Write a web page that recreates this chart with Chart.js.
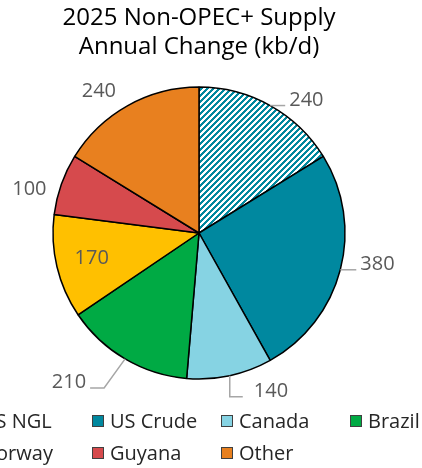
<!DOCTYPE html>
<html>
<head>
<meta charset="utf-8">
<script src="https://cdn.jsdelivr.net/npm/chart.js@4"></script>
<style>
  html, body { margin: 0; padding: 0; background: #fff; overflow: hidden; }
  #c { display: block; }
</style>
</head>
<body>
<canvas id="c" width="422" height="468"></canvas>
<script>
// ---- data ----
const titleLines = ['2025 Non-OPEC+ Supply', 'Annual Change (kb/d)'];
const categories = ['US NGL', 'US Crude', 'Canada', 'Brazil', 'Norway', 'Guyana', 'Other'];
const values = [240, 380, 140, 210, 170, 100, 240];

// ---- styles ----
const FONT = "'Open Sans', 'Noto Sans', sans-serif";
const TEAL = '#00889f';
const sliceColors = [null, TEAL, '#86d3e3', '#00aa44', '#ffc000', '#d64a4d', '#e8801f'];

function hatch(color) {
  const s = 6;
  const c = document.createElement('canvas');
  c.width = s; c.height = s;
  const g = c.getContext('2d');
  g.fillStyle = '#fff';
  g.fillRect(0, 0, s, s);
  g.fillStyle = color;
  for (let x = 0; x < s; x++) for (let y = 0; y < s; y++) {
    if (((x + y) % s) < 3) g.fillRect(x, y, 1, 1);
  }
  return document.getElementById('c').getContext('2d').createPattern(c, 'repeat');
}
const fills = sliceColors.map((c, i) => i === 0 ? hatch(TEAL) : c);

// label placement: per slice
const labelLayout = [
  { type: 'leader', steps: [[15, 0]], align: 'left', gap: 4 },
  { type: 'leader', steps: [[16, 0]], align: 'left', gap: 4 },
  { type: 'leader', steps: [[0, 21], [13, 0]], align: 'left', gap: 11 },
  { type: 'leader', steps: [[-21, 29], [-14, 0]], align: 'right', gap: 4 },
  { type: 'inside', r: 0.755 },
  { type: 'outside', r: 1.2, da: -5 },
  { type: 'outside', r: 1.19, da: -6 }
];

const labelsPlugin = {
  id: 'sliceLabels',
  afterDatasetsDraw(chart) {
    const ctx = chart.ctx;
    const meta = chart.getDatasetMeta(0);
    ctx.save();
    ctx.font = '20px ' + FONT;
    ctx.fillStyle = '#595959';
    ctx.strokeStyle = '#a6a6a6';
    ctx.lineWidth = 1.5;
    meta.data.forEach((arc, i) => {
      const p = arc.getProps(['x', 'y', 'startAngle', 'endAngle', 'outerRadius'], true);
      const mid = (p.startAngle + p.endAngle) / 2;
      const R = p.outerRadius;
      const L = labelLayout[i];
      const txt = String(values[i]);
      if (L.type === 'leader') {
        let x = p.x + R * Math.cos(mid), y = p.y + R * Math.sin(mid);
        ctx.beginPath();
        ctx.moveTo(x, y);
        L.steps.forEach(s => { x += s[0]; y += s[1]; ctx.lineTo(x, y); });
        ctx.stroke();
        ctx.textBaseline = 'alphabetic';
        ctx.textAlign = L.align;
        ctx.fillText(txt, L.align === 'left' ? x + L.gap : x - L.gap, y);
      } else {
        const a = mid + ((L.da || 0) * Math.PI / 180);
        const x = p.x + R * L.r * Math.cos(a), y = p.y + R * L.r * Math.sin(a);
        ctx.textBaseline = 'middle';
        ctx.textAlign = 'center';
        ctx.fillText(txt, x, y);
      }
    });
    ctx.restore();
  }
};

const legendPlugin = {
  id: 'gridLegend',
  afterDraw(chart) {
    const ctx = chart.ctx;
    const colW = 129, startX = -37, rowY = [421, 453], box = 12, perRow = 4;
    ctx.save();
    ctx.font = '20px ' + FONT;
    ctx.textBaseline = 'middle';
    ctx.textAlign = 'left';
    categories.forEach((name, i) => {
      const col = i % perRow, row = Math.floor(i / perRow);
      const x = startX + col * colW, y = rowY[row];
      ctx.fillStyle = sliceColors[i] || TEAL;
      ctx.fillRect(x, y - box / 2, box, box);
      ctx.strokeStyle = '#404040';
      ctx.lineWidth = 1;
      ctx.strokeRect(x + 0.5, y - box / 2 + 0.5, box - 1, box - 1);
      ctx.fillStyle = '#262626';
      ctx.fillText(name, x + box + 6, y + 1);
    });
    ctx.restore();
  }
};

new Chart(document.getElementById('c'), {
  type: 'pie',
  data: {
    labels: categories,
    datasets: [{
      data: values,
      backgroundColor: fills,
      borderColor: '#000',
      borderWidth: 1.5
    }]
  },
  options: {
    responsive: false,
    devicePixelRatio: 1,
    animation: false,
    radius: 146,
    layout: { padding: { left: 0, right: 24, top: 0, bottom: 67.6 } },
    plugins: {
      legend: { display: false },
      tooltip: { enabled: false },
      title: {
        display: true,
        text: titleLines,
        color: '#000',
        font: { family: FONT, size: 24, weight: 'normal', lineHeight: 1.2 },
        padding: { top: 4, bottom: 4 }
      }
    }
  },
  plugins: [labelsPlugin, legendPlugin]
});
</script>
</body>
</html>
